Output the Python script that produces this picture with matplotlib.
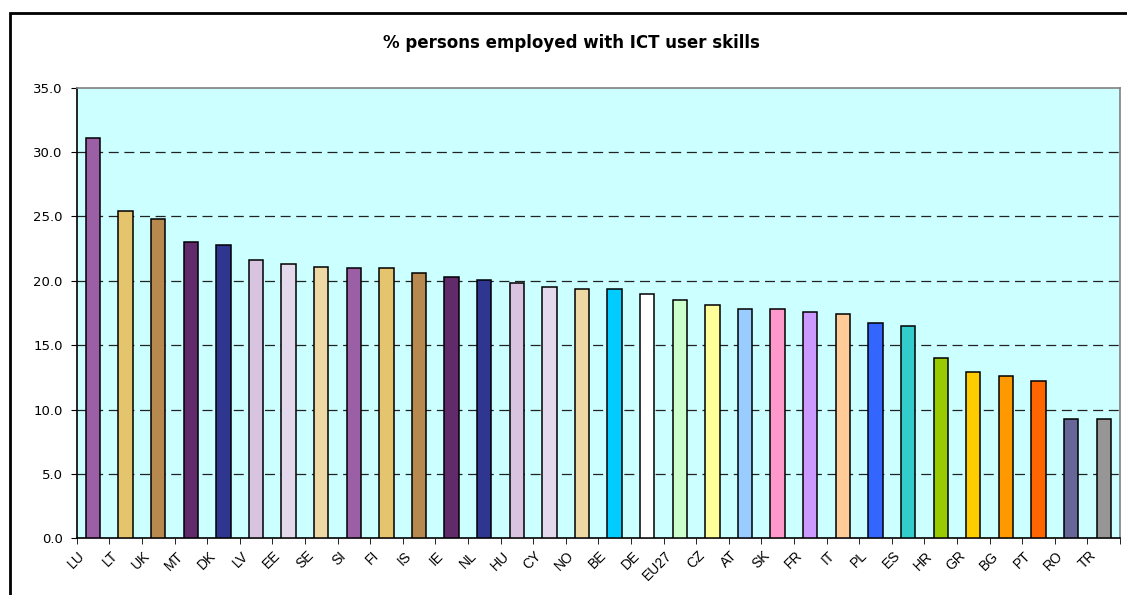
import numpy as np
import matplotlib.pyplot as plt
import matplotlib.transforms as mtransforms
from matplotlib.patches import Rectangle

plt.rcParams['font.family'] = ['Liberation Sans', 'DejaVu Sans']

countries = ['LU', 'LT', 'UK', 'MT', 'DK', 'LV', 'EE', 'SE', 'SI', 'FI', 'IS', 'IE',
             'NL', 'HU', 'CY', 'NO', 'BE', 'DE', 'EU27', 'CZ', 'AT', 'SK', 'FR', 'IT',
             'PL', 'ES', 'HR', 'GR', 'BG', 'PT', 'RO', 'TR']
values = [31.1, 25.4, 24.8, 23.0, 22.8, 21.6, 21.3, 21.1, 21.0, 21.0, 20.6, 20.3,
          20.1, 19.8, 19.5, 19.4, 19.4, 19.0, 18.5, 18.1, 17.8, 17.8, 17.6, 17.4,
          16.7, 16.5, 14.0, 12.9, 12.6, 12.2, 9.3, 9.3]
colors = ['#9B5FA6', '#E5C46E', '#B8894F', '#612A6B', '#2E3690', '#D8C4E0',
          '#E4D8EC', '#EED9A5', '#9B5FA6', '#E5C46E', '#B8894F', '#612A6B',
          '#2E3690', '#D8C4E0', '#E4D8EC', '#EED9A5', '#00CCFF', '#FFFFFF',
          '#CCFFCC', '#FFFF99', '#99CCFF', '#FF99CC', '#CC99FF', '#FFCC99',
          '#3366FF', '#33CCCC', '#99CC00', '#FFCC00', '#FF9900', '#FF6600',
          '#666699', '#969696']
title = '% persons employed with ICT user skills'

fig = plt.figure(figsize=(11.27, 5.95), dpi=100)
W, H = 1127, 595
ax = fig.add_axes([76.7 / W, 1 - 538.3 / H, (1120 - 76.7) / W, (538.3 - 87.7) / H])

# outer chart frame
fig.patches.append(Rectangle((10 / W, -0.05), 1.2, 1 - 13 / H + 0.05,
                             transform=fig.transFigure, fill=False,
                             edgecolor='black', linewidth=2))

x = np.arange(len(countries))
ax.set_facecolor('#CCFFFF')
ax.bar(x, values, width=0.44, color=colors, edgecolor='black', linewidth=1.1, zorder=3)

ax.set_xlim(-0.5, len(countries) - 0.5)
ax.set_ylim(0, 35)
ax.set_yticks(np.arange(0, 35.1, 5))
ax.set_yticklabels(['%.1f' % v for v in np.arange(0, 35.1, 5)], fontsize=9.5,
                   family='DejaVu Sans')
for v in range(5, 35, 5):
    ax.axhline(v, color='#222222', linewidth=0.9, linestyle=(0, (8, 4.5)), zorder=1)

ax.set_xticks(x)
ax.set_xticklabels(countries, rotation=45, ha='right', rotation_mode='anchor', fontsize=10)
ax.tick_params(axis='x', length=0, pad=6)
ax.set_xticks(np.arange(-0.5, len(countries)), minor=True)
ax.tick_params(axis='x', which='minor', length=4, direction='out')
ax.tick_params(axis='y', length=4, direction='out', pad=6)

# excel puts the end of each slanted label a bit left of the category centre
shift = mtransforms.ScaledTranslation(-15 / 100, -2 / 100, fig.dpi_scale_trans)
for lab in ax.get_xticklabels():
    lab.set_transform(lab.get_transform() + shift)

ax.spines['left'].set_color('black')
ax.spines['bottom'].set_color('black')
ax.spines['top'].set_color('#808080')
ax.spines['right'].set_color('#808080')
for s in ax.spines.values():
    s.set_linewidth(1.2)

fig.text(571 / W, 1 - 43 / H, title, ha='center', va='center', fontsize=12,
         fontweight='bold', family='DejaVu Sans')

fig.savefig('out.png', dpi=100)
